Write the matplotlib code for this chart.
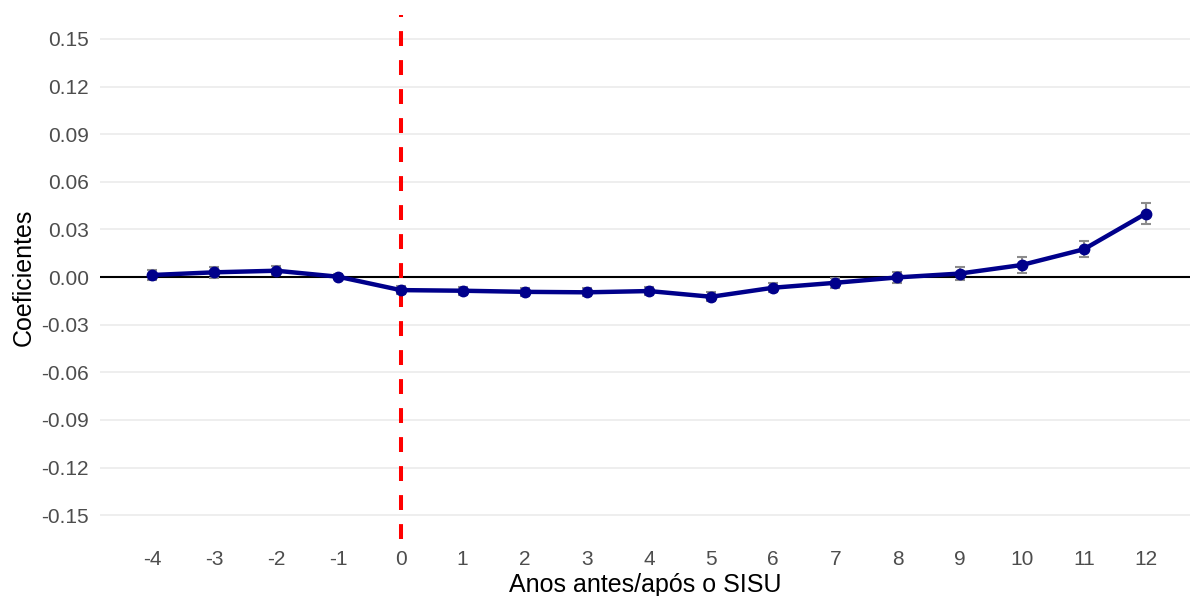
import matplotlib.pyplot as plt

# event-study coefficients
anos = [-4, -3, -2, -1, 0, 1, 2, 3, 4, 5, 6, 7, 8, 9, 10, 11, 12]
coef = [0.0013, 0.0030, 0.0040, 0.0002, -0.0082, -0.0086, -0.0093, -0.0096,
        -0.0088, -0.0124, -0.0067, -0.0036, -0.0002, 0.0022, 0.0076, 0.0175, 0.0400]
erro = [0.0030, 0.0035, 0.0030, 0.0015, 0.0025, 0.0025, 0.0025, 0.0025,
        0.0025, 0.0028, 0.0028, 0.0030, 0.0035, 0.0040, 0.0050, 0.0050, 0.0066]
y_ticks = [-0.15, -0.12, -0.09, -0.06, -0.03, 0.0, 0.03, 0.06, 0.09, 0.12, 0.15]

plt.rcParams['font.family'] = ['Liberation Sans', 'DejaVu Sans']

fig = plt.figure(figsize=(11.9, 5.96), dpi=100)
ax = fig.add_axes([0.084, 0.0956, 0.916, 0.879])

ax.axhline(0, color='black', linewidth=1.5, zorder=2)
ax.axvline(0, color='red', linewidth=2.9, linestyle=(0, (3.7, 3.5)), zorder=2)

ax.errorbar(anos, coef, yerr=erro, fmt='none', ecolor='#8c8c8c',
            elinewidth=1.5, capsize=3.5, capthick=1.5, zorder=3)
ax.plot(anos, coef, color='#00008B', linewidth=3.2, marker='o',
        markersize=7.5, zorder=4)

ax.set_xlim(-4.84, 12.71)
ax.set_ylim(-0.165, 0.165)
ax.set_xticks(anos)
ax.set_xticklabels([str(a) for a in anos])
ax.set_yticks(y_ticks)
ax.set_yticklabels([f'{t:.2f}' for t in y_ticks])

ax.grid(axis='y', color='#ebebeb', linewidth=1.2)
ax.set_axisbelow(True)
for s in ax.spines.values():
    s.set_visible(False)
ax.tick_params(length=0, labelsize=15, colors='#4d4d4d', pad=8)

ax.set_xlabel('Anos antes/após o SISU', fontsize=18, labelpad=3)
ax.set_ylabel('Coeficientes', fontsize=18, labelpad=4)

fig.savefig('out.png', dpi=100)
